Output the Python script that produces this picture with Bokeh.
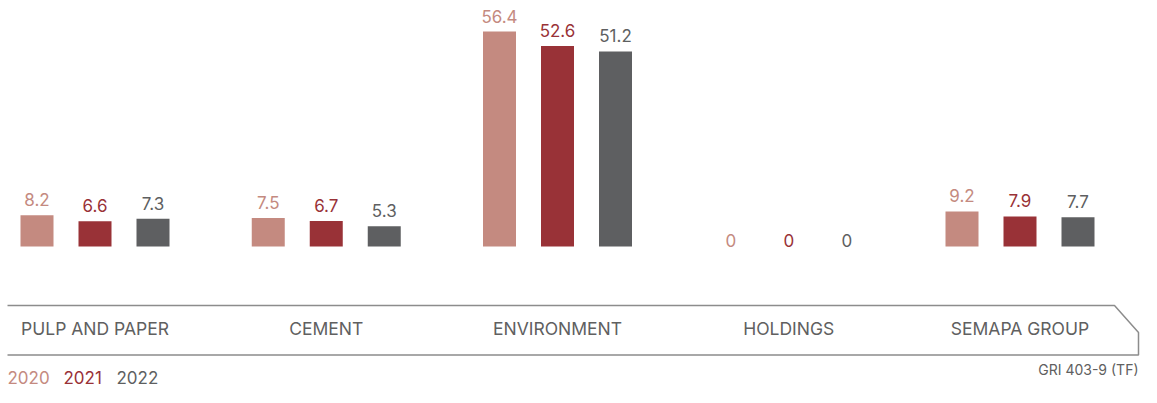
from bokeh.plotting import figure
from bokeh.models import ColumnDataSource, Range1d
from bokeh.core.properties import value
from bokeh.embed import file_html
from bokeh.resources import INLINE

# ---- data ----
categories = ["PULP AND PAPER", "CEMENT", "ENVIRONMENT", "HOLDINGS", "SEMAPA GROUP"]
years = ["2020", "2021", "2022"]
v2020 = [8.2, 7.5, 56.4, 0, 9.2]
v2021 = [6.6, 6.7, 52.6, 0, 7.9]
v2022 = [7.3, 5.3, 51.2, 0, 7.7]
source_note = "GRI 403-9 (TF)"

colors = ["#c48a80", "#993237", "#5e5f61"]
FONT = "Inter"

W, H = 1141, 387
# layout (picture pixels) -> data mapping
X0, STEP = 94.5, 231.25      # centre of first group, distance between groups
Y0, PPU = 246.0, 3.81        # baseline, pixels per unit

def sx(px):
    return (px - X0) / STEP

def sy(py):
    return (Y0 - py) / PPU

p = figure(width=W, height=H, output_backend="svg", toolbar_location=None,
           x_range=Range1d(sx(0), sx(W)), y_range=Range1d(sy(H), sy(0)),
           min_border=0, outline_line_color=None)
p.axis.visible = False
p.grid.visible = False
p.background_fill_color = "white"
p.border_fill_color = "white"

bar_off = 58 / STEP
bar_w = 33 / STEP

for j, (yr, vals) in enumerate(zip(years, [v2020, v2021, v2022])):
    xs = [i + (j - 1) * bar_off for i in range(len(categories))]
    src = ColumnDataSource(dict(
        x=xs, top=vals,
        label=[f"{v:g}" for v in vals],
        yoff=[-15.5 if v > 0 else -6 for v in vals],
    ))
    p.vbar(x="x", top="top", bottom=0, width=bar_w, source=src,
           fill_color=colors[j], line_color=None)
    p.text(x="x", y="top", text="label", source=src, y_offset="yoff",
           text_align="center", text_baseline="middle",
           text_font=value(FONT), text_font_size="17px", text_color=colors[j])

# category band
line_col = "#8c8c8c"
p.line([sx(7), sx(1114), sx(1138), sx(1138), sx(7)],
       [sy(305), sy(305), sy(332), sy(354.5), sy(354.5)],
       line_color=line_col, line_width=1.5)

csrc = ColumnDataSource(dict(x=list(range(len(categories))), y=[sy(328)] * len(categories),
                             t=categories))
p.text(x="x", y="y", text="t", source=csrc, text_align="center", text_baseline="middle",
       text_font=value(FONT), text_font_size="17.5px", text_color="#606060")

p.text(x=[sx(1138)], y=[sy(369)], text=[source_note], text_align="right",
       text_baseline="middle", text_font=value(FONT), text_font_size="14px",
       text_color="#606060")

# legend as coloured year labels
leg_x = [7, 63, 116]
for j, yr in enumerate(years):
    p.text(x=[sx(leg_x[j])], y=[sy(377)], text=[yr], text_align="left",
           text_baseline="middle", text_font=value(FONT), text_font_size="17px",
           text_color=colors[j])

open("out.html", "w").write(file_html(p, INLINE))
